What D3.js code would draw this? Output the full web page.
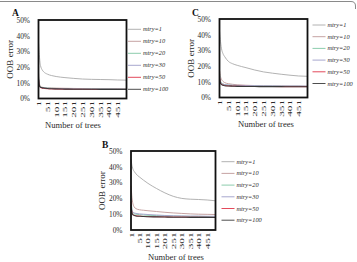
<!DOCTYPE html>
<html><head><meta charset="utf-8">
<script src="https://cdn.jsdelivr.net/npm/d3@7"></script>
<style>body{margin:0;background:#fff}svg{display:block}</style>
</head><body>
<svg id="c" width="357" height="262"></svg>
<script>
const trees = [1,3,5,8,12,20,30,51,75,101,151,201,251,301,351,401,451,500];
const seriesNames = ["mtry=1","mtry=10","mtry=20","mtry=30","mtry=50","mtry=100"];
const seriesColors = ["#a9a9a9","#bf9898","#7fc6a4","#9e9ec8","#e0364a","#3a3a3a"];
const xTickLabels = [1,51,101,151,201,251,301,351,401,451];
const yTickValues = [0,10,20,30,40,50];

const valuesA = [
  [35,31,28,24,21,18.5,17,15.5,14.6,14,13.3,12.8,12.4,12.2,12.1,12,11.8,11.7],
  [16,12,10,8.5,7.8,7.2,7,6.8,6.7,6.6,6.5,6.4,6.3,6.3,6.2,6.2,6.2,6.1],
  [14,10.5,9,8,7.4,7,6.8,6.6,6.5,6.4,6.3,6.2,6.2,6.1,6.1,6.1,6.0,6.0],
  [13,10,8.5,7.6,7.2,6.9,6.7,6.5,6.4,6.3,6.2,6.1,6.1,6.0,6.0,6.0,6.0,5.9],
  [12,9.5,8,7.3,6.9,6.6,6.4,6.2,6.1,6.0,5.9,5.9,5.9,5.8,5.8,5.8,5.8,5.8],
  [12,9.5,8.3,7.6,7.2,6.9,6.7,6.4,6.2,6.1,6.0,5.9,5.9,5.9,5.8,5.8,5.8,5.8]
];
const valuesB = [
  [45,43,41.5,40,38.5,37,35.5,33.5,31.5,29.5,26.3,23.5,21.3,20,19.5,19.3,19,18.5],
  [28,25,22,19,16.5,14.5,13.5,12.8,12.5,12.2,11.7,11.2,10.8,10.5,10.2,10,9.9,9.8],
  [22,17,14,12,11,10.3,10,9.7,9.5,9.3,9.1,8.9,8.8,8.7,8.6,8.6,8.5,8.5],
  [20,16,13.5,12,11.2,10.8,10.5,10.2,10,9.8,9.5,9.2,9.0,8.9,8.8,8.8,8.7,8.7],
  [18,14,12,10.5,9.8,9.3,9,8.8,8.6,8.5,8.4,8.3,8.2,8.2,8.1,8.1,8.0,8.0],
  [16,13,11.5,10.2,9.6,9.2,8.9,8.7,8.5,8.4,8.3,8.2,8.1,8.1,8.0,8.0,8.0,7.9]
];
const valuesC = [
  [42,39,37,34,31,28,26,23,21.5,20.5,19,17.5,16.3,15.5,14.8,14.2,13.7,13.5],
  [17,15.5,14,12.5,11.5,10.3,9.5,8.8,8.4,8.1,7.8,7.6,7.5,7.4,7.4,7.3,7.3,7.2],
  [15,12.5,11,10,9.2,8.6,8.2,7.9,7.7,7.6,7.4,7.3,7.2,7.2,7.1,7.1,7.1,7.0],
  [14,12,10.5,9.5,9,8.5,8.2,7.9,7.8,7.7,7.6,7.5,7.4,7.4,7.3,7.3,7.3,7.2],
  [13,11,10,9,8.5,8,7.7,7.4,7.3,7.2,7.1,7.0,7.0,7.0,6.9,6.9,6.9,6.9],
  [12,10.5,9.5,8.7,8.2,7.8,7.5,7.3,7.2,7.1,7.0,7.0,6.9,6.9,6.9,6.8,6.8,6.8]
];

const panels = [
  {label:"A", values:valuesA, box:[38.5,20,126.5,98.5], lx:128, ly:29.3, ldy:12, tx:73, lab:[12,16]},
  {label:"C", values:valuesC, box:[219.5,19,307.5,97.5], lx:312.5, ly:25, ldy:11.7, tx:266, lab:[192,16]},
  {label:"B", values:valuesB, box:[131,151,215.5,230], lx:221.5, ly:161.7, ldy:11.7, tx:176, lab:[102,148]}
];

const svg = d3.select("#c");
svg.append("path").attr("d","M0,1.5H351Q355.5,1.5 355.5,6V9")
  .attr("fill","none").attr("stroke","#8a8a8a").attr("stroke-width",1);

const serif = "'Liberation Serif','DejaVu Serif',serif";
const txt = "#2a2a2a";

panels.forEach(p => {
  const [x0,y0,x1,y1] = p.box;
  const x = d3.scaleLinear().domain([0.5,500.5]).range([x0,x1]);
  const y = d3.scaleLinear().domain([0,50]).range([y1,y0]);
  const g = svg.append("g");

  // y axis labels
  const ya = g.append("g").attr("transform",`translate(${x0-5.5},0)`)
    .call(d3.axisLeft(y).tickValues(yTickValues).tickSize(0).tickFormat(d=>d+"%"));
  ya.select(".domain").remove();
  ya.selectAll("text").attr("font-family",serif).attr("font-size",7.4).attr("fill",txt).attr("dx",0);

  // x axis labels
  const xa = g.append("g").attr("transform",`translate(0,${y1+2.5})`)
    .call(d3.axisBottom(x).tickValues(xTickLabels).tickSize(0).tickFormat(d=>d));
  xa.select(".domain").remove();
  xa.selectAll("text")
    .attr("font-family",serif).attr("font-size",5.6).attr("fill",txt)
    .attr("text-anchor","end").attr("dy",null).attr("y",0).attr("x",0)
    .attr("transform","rotate(-90) scale(2.0,1) translate(0,2)");

  // lines
  const line = d3.line().x((d,i)=>x(trees[i])).y(d=>y(d)).curve(d3.curveMonotoneX);
  p.values.forEach((vals,si) => {
    g.append("path").datum(vals).attr("d",line)
      .attr("fill","none").attr("stroke",seriesColors[si]).attr("stroke-width",si===5?1.1:0.9);
  });

  // box
  g.append("rect").attr("x",x0).attr("y",y0).attr("width",x1-x0).attr("height",y1-y0)
    .attr("fill","none").attr("stroke","#111").attr("stroke-width",1.8);

  // legend
  seriesNames.forEach((n,si) => {
    const yy = p.ly + si*p.ldy;
    g.append("line").attr("x1",p.lx).attr("x2",p.lx+13).attr("y1",yy).attr("y2",yy)
      .attr("stroke",seriesColors[si]).attr("stroke-width",0.9);
    g.append("text").attr("x",p.lx+15).attr("y",yy+2).text(n)
      .attr("font-family",serif).attr("font-style","italic").attr("font-size",6.3).attr("fill",txt);
  });

  // titles
  g.append("text").attr("transform",`translate(${x0-26},${(y0+y1)/2}) rotate(-90)`)
    .attr("text-anchor","middle").attr("font-family",serif).attr("font-size",9).attr("fill",txt)
    .text("OOB error");
  g.append("text").attr("x",p.tx).attr("y",y1+29.5).attr("text-anchor","middle")
    .attr("font-family",serif).attr("font-size",8.6).attr("fill",txt).text("Number of trees");
  g.append("text").attr("x",p.lab[0]).attr("y",p.lab[1]).attr("font-family",serif)
    .attr("font-weight","bold").attr("font-size",9.5).attr("fill","#111").text(p.label);
});
</script>
</body></html>
